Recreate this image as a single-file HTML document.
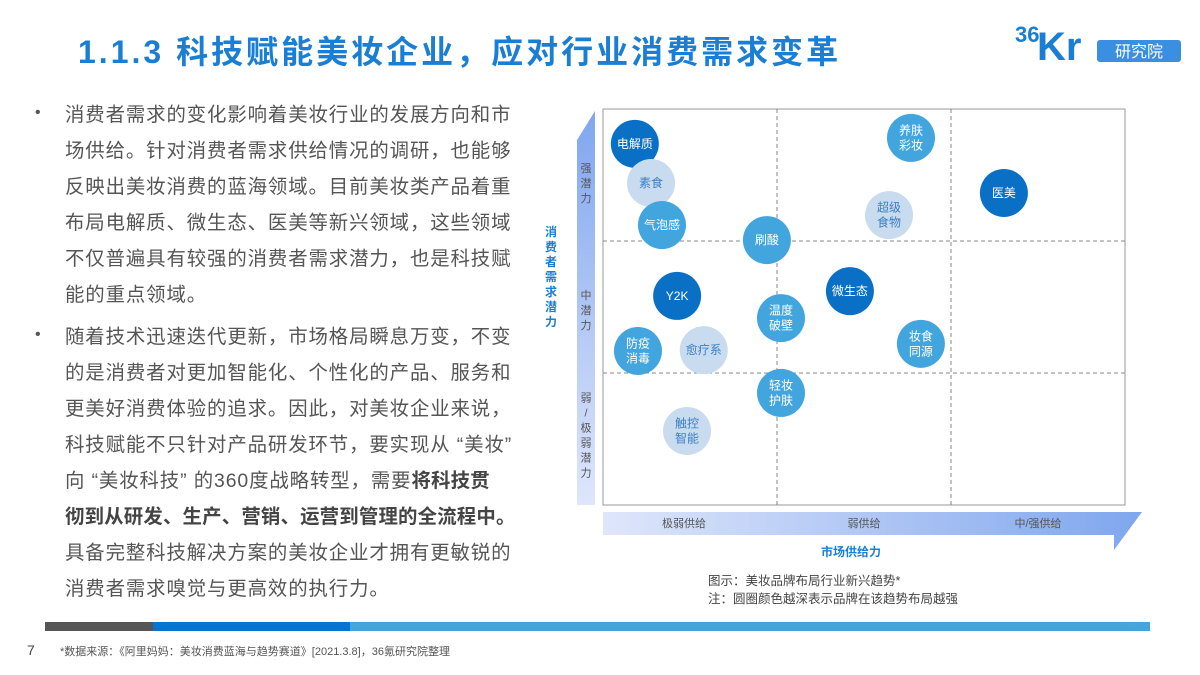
<!DOCTYPE html>
<html><head><meta charset="utf-8">
<style>
body{margin:0;width:1200px;height:675px;background:#fff;position:relative;overflow:hidden;font-family:"Liberation Sans","Noto Sans CJK SC",sans-serif;}
.title{position:absolute;left:78px;top:27px;font-size:32px;font-weight:bold;color:#1a7fd4;letter-spacing:3px;}
.logo{position:absolute;left:1015px;top:14px;}
.txt{position:absolute;left:65px;font-size:19.4px;color:#555;white-space:nowrap;line-height:36px;letter-spacing:0.9px;}
.bul{position:absolute;left:35px;font-size:16px;color:#555;}
.b{font-weight:bold;color:#444;letter-spacing:0.2px;}
</style></head><body>
<div class="title">1.1.3 科技赋能美妆企业，应对行业消费需求变革</div>
<div class="logo">
<svg width="170" height="50"><text x="0" y="28" font-size="22" font-weight="bold" fill="#1a7fd4" font-family="Liberation Sans">36</text><text x="22" y="46" font-size="40" font-weight="bold" fill="#1a7fd4" font-family="Liberation Sans">Kr</text><rect x="82" y="26" width="84" height="22" rx="3" fill="#3b8fe0"/><text x="124" y="43" font-size="16" fill="#fff" text-anchor="middle" font-family="Noto Sans CJK SC">研究院</text></svg></div>

<div class="bul" style="top:104px">•</div>
<div class="bul" style="top:326px">•</div>
<div class="txt" style="top:97px">消费者需求的变化影响着美妆行业的发展方向和市<br>场供给。针对消费者需求供给情况的调研，也能够<br>反映出美妆消费的蓝海领域。目前美妆类产品着重<br>布局电解质、微生态、医美等新兴领域，这些领域<br>不仅普遍具有较强的消费者需求潜力，也是科技赋<br>能的重点领域。</div>
<div class="txt" style="top:319px">随着技术迅速迭代更新，市场格局瞬息万变，不变<br>的是消费者对更加智能化、个性化的产品、服务和<br>更美好消费体验的追求。因此，对美妆企业来说，<br>科技赋能不只针对产品研发环节，要实现从 “美妆”<br>向 “美妆科技” 的360度战略转型，需要<span class="b">将科技贯</span><br><span class="b">彻到从研发、生产、营销、运营到管理的全流程中。</span><br>具备完整科技解决方案的美妆企业才拥有更敏锐的<br>消费者需求嗅觉与更高效的执行力。</div>

<svg id="chart" width="1200" height="675" style="position:absolute;left:0;top:0">
<defs>
<linearGradient id="gy" x1="0" y1="1" x2="0" y2="0"><stop offset="0" stop-color="#dfe6fb"/><stop offset="1" stop-color="#7fa6ee"/></linearGradient>
<linearGradient id="gx" x1="0" y1="0" x2="1" y2="0"><stop offset="0" stop-color="#dfe6fb"/><stop offset="1" stop-color="#7fa6ee"/></linearGradient>
</defs>
<g id="axes"></g>
<g id="bubbles"></g>
</svg>
<div style="position:absolute;left:45px;top:622px;width:108px;height:9px;background:#555"></div>
<div style="position:absolute;left:153px;top:622px;width:197px;height:9px;background:#0a73cc"></div>
<div style="position:absolute;left:350px;top:622px;width:800px;height:9px;background:#43a5de"></div>
<div style="position:absolute;left:27px;top:642px;font-size:14px;color:#444">7</div>
<div style="position:absolute;left:60px;top:643px;font-size:11px;color:#555">*数据来源：《阿里妈妈：美妆消费蓝海与趋势赛道》[2021.3.8]，36氪研究院整理</div>

<script>
const names=["电解质","素食","气泡感","刷酸","养肤彩妆","超级食物","医美","Y2K","微生态","温度破壁","妆食同源","防疫消毒","愈疗系","轻妆护肤","触控智能"];
const supply=[0.061,0.092,0.113,0.314,0.59,0.548,0.768,0.142,0.473,0.341,0.609,0.067,0.193,0.341,0.161];
const potential=[0.912,0.813,0.707,0.669,0.927,0.732,0.788,0.528,0.540,0.472,0.407,0.389,0.391,0.283,0.187];
const level=[3,1,2,2,2,1,3,3,3,2,2,2,1,2,1];
const xTicks=["极弱供给","弱供给","中/强供给"];
const yTicks=[["强","潜","力"],["中","潜","力"],["弱","/","极","弱","潜","力"]];
const X0=603,X1=1125,Y0=505,Y1=109;
const sx=v=>X0+v*(X1-X0), sy=v=>Y0-v*(Y0-Y1);
const NS="http://www.w3.org/2000/svg";
function mk(t,a,p,txt){const e=document.createElementNS(NS,t);for(const k in a)e.setAttribute(k,a[k]);if(txt!=null)e.textContent=txt;p.appendChild(e);return e;}
const ax=document.getElementById('axes'),bb=document.getElementById('bubbles');
let e;
e=mk('path',{d:"M577 505 L577 140 L595 111 L595 505 Z",fill:"url(#gy)"},ax);

e=mk('path',{d:"M603 512 L1142 512 L1114 550 L1114 535 L603 535 Z",fill:"url(#gx)"},ax);

e=mk('rect',{x:X0,y:Y1,width:X1-X0,height:Y0-Y1,fill:"none",stroke:"#999","stroke-width":1},ax);

[1/3,2/3].forEach(f=>{
 e=mk('line',{x1:sx(f),x2:sx(f),y1:Y1,y2:Y0,stroke:"#888","stroke-dasharray":"4,3"},ax);
 
 e=mk('line',{x1:X0,x2:X1,y1:sy(f),y2:sy(f),stroke:"#888","stroke-dasharray":"4,3"},ax);
 
});
xTicks.forEach((t,i)=>{
 e=mk('text',{x:sx((i+0.5)/3)-(i==0?6:0),y:527,"font-size":11,fill:"#555","text-anchor":"middle"},ax,t);
 
});
yTicks.forEach((arr,i)=>{
 const c=sy(1-(i+0.5)/3)+(i==0?8:(i==2?-4:3));
 arr.forEach((ch,j)=>{
  e=mk('text',{x:586,y:c+(j-(arr.length-1)/2)*15+4,"font-size":11,fill:"#555","text-anchor":"middle"},ax,ch);
  
 });
});
"消费者需求潜力".split("").forEach((ch,j)=>{
 e=mk('text',{x:551,y:236+j*15,"font-size":12,"font-weight":"bold",fill:"#1a7fd4","text-anchor":"middle"},ax,ch);
 
});
e=mk('text',{x:851,y:556,"font-size":12,"font-weight":"bold",fill:"#1a7fd4","text-anchor":"middle"},ax,"市场供给力");

e=mk('text',{x:708,y:585,"font-size":12.5,fill:"#444"},ax,"图示：美妆品牌布局行业新兴趋势*");

e=mk('text',{x:708,y:603,"font-size":12.5,fill:"#444"},ax,"注：圆圈颜色越深表示品牌在该趋势布局越强");

const fills={1:"#c9dbee",2:"#43a5de",3:"#0a70c6"},tcol={1:"#3a7fc4",2:"#fff",3:"#fff"};
names.forEach((n,i)=>{
 const cx=sx(supply[i]),cy=sy(potential[i]);
 const g=mk('g',{},bb);
 
 
 mk('circle',{cx:cx,cy:cy,r:24,fill:fills[level[i]]},g);
 const lines=n.length==4?[n.slice(0,2),n.slice(2)]:[n];
 lines.forEach((l,j)=>mk('text',{x:cx,y:cy+4+(j-(lines.length-1)/2)*15,"font-size":12,fill:tcol[level[i]],"text-anchor":"middle"},g,l));
});
</script>
</body></html>
